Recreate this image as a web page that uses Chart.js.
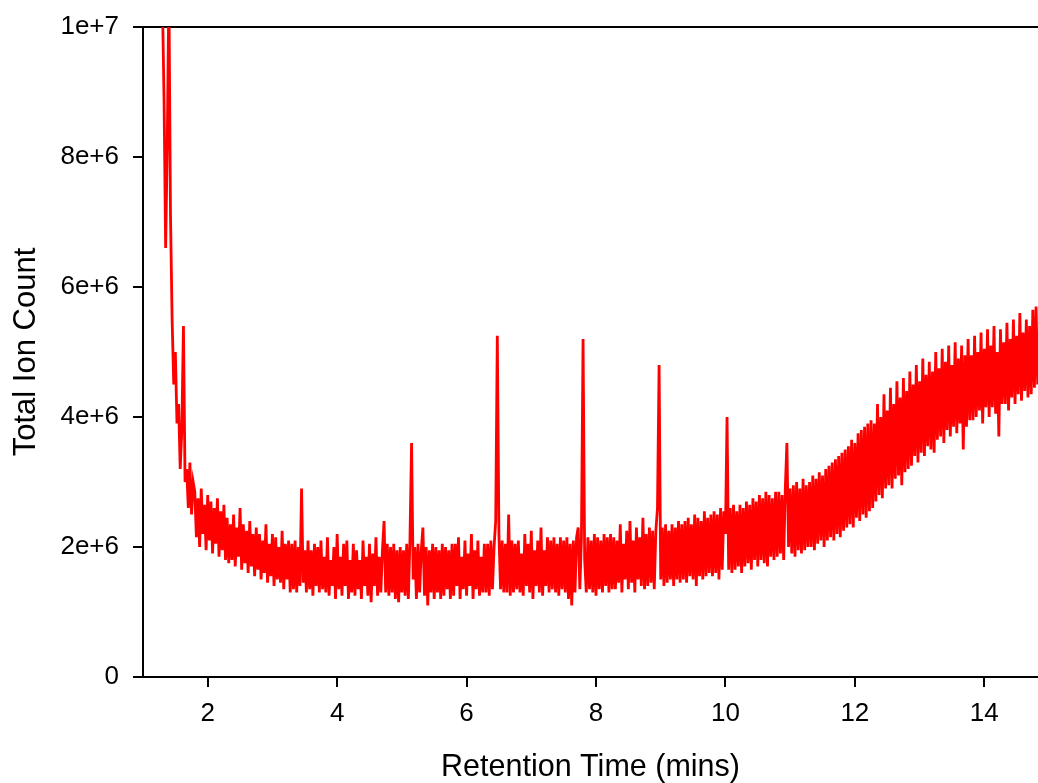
<!DOCTYPE html>
<html><head><meta charset="utf-8">
<script src="https://cdn.jsdelivr.net/npm/chart.js@4.4.0/dist/chart.umd.min.js"></script>
<style>html,body{margin:0;padding:0;background:#fff;overflow:hidden}#wrap{width:1038px;height:783px}</style>
</head><body><div id="wrap"><canvas id="c" width="1038" height="783"></canvas></div>
<script>
// Scan timing of the trace (minutes)
const scanStartMin = 1.30;
const scanStepMin = 0.025;
// Total ion count per scan, in millions
const ticMillions = [
  // 1.30
  10.4, 8.9, 6.6, 8.2, 10.6, 7.1, 5.5, 4.5, 5.0, 3.9, 4.2, 3.2, 3.8, 5.4, 3.0, 3.2, 2.6, 3.3, 2.5, 3.0,
  // 1.80
  2.85, 2.15, 2.75, 2.0, 2.9, 2.2, 2.65, 1.95, 2.8, 2.1, 2.7, 1.9, 2.6, 2.05, 2.75, 1.85, 2.55, 1.95, 2.65, 1.8,
  // 2.30
  2.45, 1.75, 2.35, 1.8, 2.5, 1.7, 2.3, 1.85, 2.6, 1.65, 2.35, 1.75, 2.25, 1.6, 2.4, 1.7, 2.2, 1.55, 2.3, 1.65,
  // 2.80
  2.2, 1.5, 2.1, 1.6, 2.35, 1.45, 2.05, 1.55, 2.2, 1.4, 2.15, 1.5, 2.0, 1.45, 2.25, 1.35, 2.05, 1.5, 2.1, 1.3,
  // 3.30
  2.05, 1.35, 2.1, 1.3, 2.0, 1.4, 2.9, 1.45, 1.95, 1.3, 2.1, 1.35, 1.95, 1.25, 2.05, 1.4, 2.0, 1.3, 2.1, 1.35,
  // 3.80
  1.85, 1.3, 2.15, 1.25, 1.8, 1.4, 2.0, 1.2, 2.2, 1.35, 1.85, 1.25, 2.05, 1.4, 2.1, 1.2, 1.8, 1.3, 2.05, 1.25,
  // 4.30
  1.95, 1.35, 1.8, 1.2, 2.1, 1.4, 1.85, 1.25, 2.05, 1.15, 1.9, 1.4, 2.15, 1.25, 1.85, 1.3, 1.95, 2.4, 1.3, 2.05,
  // 4.80
  1.25, 2.0, 1.3, 2.05, 1.2, 1.95, 1.15, 2.0, 1.3, 1.95, 1.25, 2.05, 1.2, 2.1, 3.6, 1.5, 2.0, 1.2, 2.05, 1.3,
  // 5.30
  1.95, 2.3, 1.25, 2.0, 1.1, 1.95, 1.3, 2.05, 1.2, 2.0, 1.3, 1.95, 1.2, 2.05, 1.25, 2.0, 1.35, 1.95, 1.2, 2.05,
  // 5.80
  1.25, 2.05, 1.4, 2.15, 1.2, 1.85, 1.35, 2.1, 1.25, 1.9, 1.4, 2.2, 1.2, 1.95, 1.35, 2.1, 1.25, 1.85, 1.3, 2.05,
  // 6.30
  1.3, 2.05, 1.25, 2.1, 1.35, 2.0, 2.4, 5.25, 2.2, 1.35, 2.1, 1.3, 2.05, 1.3, 2.5, 1.25, 2.1, 1.3, 2.05, 1.35,
  // 6.80
  2.1, 1.3, 1.9, 1.25, 2.2, 1.4, 2.05, 1.3, 2.25, 1.2, 1.95, 1.4, 2.1, 1.3, 2.3, 1.25, 1.95, 1.4, 2.15, 1.3,
  // 7.30
  2.1, 1.35, 2.15, 1.3, 2.05, 1.25, 2.15, 1.35, 2.1, 1.3, 2.15, 1.2, 2.05, 1.1, 2.1, 1.3, 2.15, 2.3, 1.35, 2.15,
  // 7.80
  5.2, 1.8, 1.3, 2.15, 1.35, 2.1, 1.3, 2.2, 1.25, 2.15, 1.35, 2.1, 1.3, 2.2, 1.4, 2.15, 1.3, 2.2, 1.35, 2.15,
  // 8.30
  1.35, 2.1, 1.45, 2.35, 1.3, 2.05, 1.5, 2.25, 1.35, 2.4, 1.45, 2.1, 1.3, 2.3, 1.5, 2.15, 1.4, 2.45, 1.35, 2.2,
  // 8.80
  1.4, 2.3, 1.45, 2.25, 1.35, 2.25, 2.6, 4.8, 1.5, 2.3, 1.4, 2.35, 1.45, 2.25, 1.5, 2.35, 1.4, 2.3, 1.5, 2.4,
  // 9.30
  1.45, 2.35, 1.5, 2.4, 1.45, 2.45, 1.55, 2.35, 1.5, 2.5, 1.4, 2.45, 1.55, 2.4, 1.5, 2.55, 1.55, 2.45, 1.6, 2.5,
  // 9.80
  1.55, 2.55, 1.6, 2.5, 1.5, 2.6, 1.65, 2.55, 2.2, 4.0, 1.65, 2.6, 1.6, 2.65, 1.65, 2.55, 1.7, 2.65, 1.6, 2.6,
  // 10.30
  1.7, 2.7, 1.75, 2.65, 1.65, 2.75, 1.8, 2.7, 1.7, 2.8, 1.8, 2.75, 1.75, 2.85, 1.7, 2.8, 1.85, 2.75, 1.8, 2.85,
  // 10.80
  1.85, 2.85, 1.9, 2.8, 1.8, 2.9, 3.6, 2.0, 2.9, 1.9, 2.95, 1.85, 3.0, 1.95, 2.9, 1.9, 3.05, 1.95, 2.95, 2.0,
  // 11.30
  3.0, 2.0, 3.1, 1.95, 3.05, 2.05, 3.15, 2.1, 3.1, 2.0, 3.2, 2.1, 3.25, 2.15, 3.3, 2.1, 3.35, 2.2, 3.4, 2.15,
  // 11.80
  3.45, 2.25, 3.5, 2.3, 3.55, 2.35, 3.65, 2.3, 3.6, 2.45, 3.75, 2.4, 3.8, 2.5, 3.85, 2.45, 3.9, 2.55, 3.95, 2.6,
  // 12.30
  3.9, 2.7, 4.2, 2.8, 4.0, 2.75, 4.35, 2.9, 4.1, 2.95, 4.45, 2.9, 4.2, 3.05, 4.55, 3.1, 4.3, 2.95, 4.6, 3.15,
  // 12.80
  4.4, 3.2, 4.7, 3.25, 4.5, 3.4, 4.8, 3.3, 4.55, 3.45, 4.9, 3.4, 4.65, 3.55, 4.85, 3.5, 4.7, 3.45, 5.0, 3.65,
  // 13.30
  4.75, 3.7, 5.05, 3.6, 4.85, 3.8, 5.1, 3.7, 4.8, 3.85, 5.15, 3.75, 4.9, 3.9, 5.1, 3.5, 4.95, 3.85, 5.2, 3.95,
  // 13.80
  4.95, 3.95, 5.25, 4.0, 5.0, 4.1, 5.3, 3.9, 5.05, 4.15, 5.35, 4.0, 5.1, 4.15, 5.4, 4.05, 5.0, 3.7, 5.35, 4.2,
  // 14.30
  5.15, 4.2, 5.45, 4.1, 5.2, 4.3, 5.5, 4.2, 5.25, 4.35, 5.6, 4.25, 5.3, 4.4, 5.5, 4.3, 5.4, 4.35, 5.65, 4.45,
  // 14.80
  5.7, 4.5
];
const xTickValues = [2, 4, 6, 8, 10, 12, 14];
const xTickLabels = ['2', '4', '6', '8', '10', '12', '14'];
const yTickValues = [0, 2e6, 4e6, 6e6, 8e6, 1e7];
const yTickLabels = ['0', '2e+6', '4e+6', '6e+6', '8e+6', '1e+7'];
const xAxisTitle = 'Retention Time (mins)';
const yAxisTitle = 'Total Ion Count';

const points = ticMillions.map((v, i) => ({ x: +(scanStartMin + i * scanStepMin).toFixed(3), y: v * 1e6 }));
const FONT = "'Liberation Sans', Arial, sans-serif";

new Chart(document.getElementById('c'), {
  type: 'line',
  data: { datasets: [{ data: points, borderColor: '#ff0000', borderWidth: 2.8, pointRadius: 0, fill: false, tension: 0, borderJoinStyle: 'miter' }] },
  options: {
    responsive: false, devicePixelRatio: 1, animation: false,
    layout: { padding: { top: 27, left: 0, right: 0, bottom: 0 } },
    plugins: { legend: { display: false }, tooltip: { enabled: false } },
    scales: {
      x: {
        type: 'linear', min: 1.0, max: 14.83,
        afterBuildTicks: s => { s.ticks = xTickValues.map(v => ({ value: v })); },
        afterFit: s => { s.height = 106; },
        ticks: { callback: v => xTickLabels[xTickValues.indexOf(v)], color: '#000', font: { family: FONT, size: 26, lineHeight: 1 }, padding: 14, maxRotation: 0, autoSkip: false },
        grid: { drawOnChartArea: false, tickColor: '#000', tickLength: 10, lineWidth: 2 },
        border: { color: '#000', width: 2 },
        title: { display: true, text: xAxisTitle, color: '#000', font: { family: FONT, size: 30.5, lineHeight: 1 }, padding: 0 }
      },
      y: {
        min: 0, max: 1e7,
        afterBuildTicks: s => { s.ticks = yTickValues.map(v => ({ value: v })); },
        afterFit: s => { s.width = 143; s.paddingTop = 0; },
        ticks: { callback: v => yTickLabels[yTickValues.indexOf(v)], color: '#000', font: { family: FONT, size: 26, lineHeight: 1 }, padding: 14 },
        grid: { color: ctx => (ctx.tick && ctx.tick.value === 1e7) ? '#000' : 'rgba(0,0,0,0)', tickColor: '#000', tickLength: 10, lineWidth: 2 },
        border: { color: '#000', width: 2 },
        title: { display: true, text: yAxisTitle, color: '#000', font: { family: FONT, size: 31, lineHeight: 1 }, padding: { top: 11, bottom: 0 } }
      }
    }
  }
});
</script></body></html>
